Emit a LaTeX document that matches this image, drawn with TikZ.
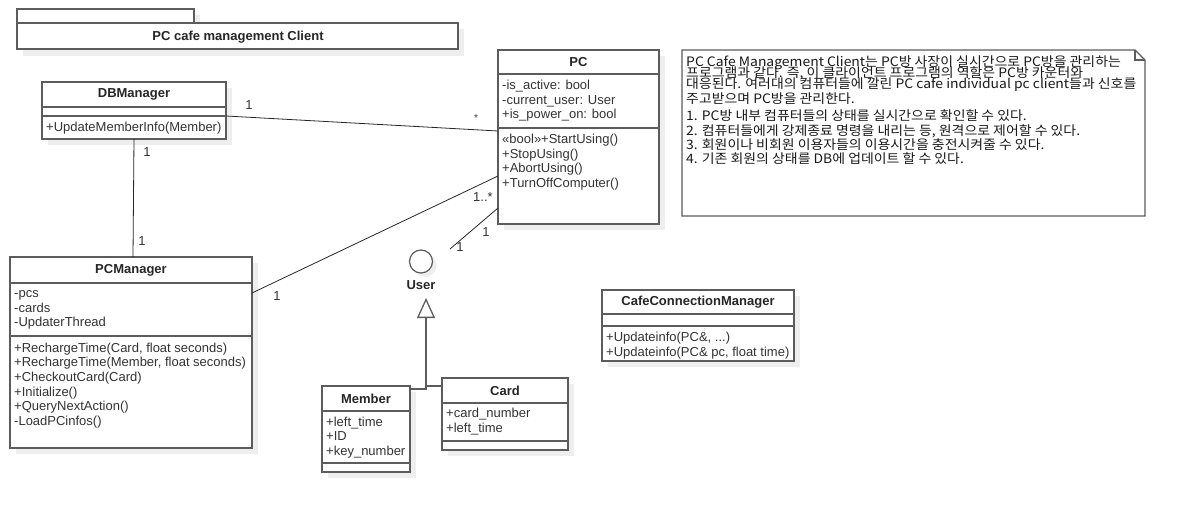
\documentclass[tikz,border=0pt]{standalone}
\usepackage{fontspec}
\setmainfont{Liberation Sans}
\newfontfamily\krfont[FakeStretch=1.07]{Noto Sans CJK KR}
\usetikzlibrary{calc,arrows.meta}
\definecolor{boxc}{HTML}{5C5C5C}
\definecolor{txtc}{HTML}{333333}
\definecolor{shadc}{HTML}{EEEEEE}
\newcommand\clsbox[8]{%
  \fill[shadc] ({#2+6},{#3+6}) rectangle ({#4+6},{#5+6});
  \node[clsframe, anchor=north west, minimum width={(#4-#2)*1pt}, minimum height={(#5-#3)*1pt}] (#1) at (#2,#3) {};
  \draw[divline] (#2,#6) -- (#4,#6) (#2,#7) -- (#4,#7);
  \node[ttl] (#1-title) at ({(#2+#4)/2},{(#3+#6)/2}) {#8};
}
\begin{document}
\begin{tikzpicture}[x=1pt,y=-1pt,
  clsframe/.style={draw=boxc, line width=1.3pt, fill=white, inner sep=0pt, outer sep=0pt},
  divline/.style={draw=boxc, line width=1.3pt},
  txt/.style={anchor=base west, inner sep=0pt, font=\fontsize{13}{15}\selectfont, text=txtc},
  ttl/.style={inner sep=0pt, font=\fontsize{13}{15}\selectfont\bfseries, text=black!85},
  conn/.style={draw=black!85, line width=0.8pt},
  mult/.style={inner sep=0pt, font=\fontsize{13}{15}\selectfont, text=txtc},
  notetxt/.style={anchor=base west, inner sep=0pt, font=\krfont\fontsize{13}{14}\selectfont, text=black!90},
  gen/.style={draw=boxc, line width=1.6pt}]
\useasboundingbox (0,0) rectangle (1186,513);

% package frame
\fill[shadc] (23,29) rectangle (464,56);
\fill[shadc] (194,15) rectangle (200,23);
\draw[divline, fill=white] (17,9) rectangle (194,23);
\node[clsframe, anchor=north west, minimum width=441pt, minimum height=26pt] (pkg) at (17,23) {};
\node[ttl] (pkg-title) at (238,37) {PC cafe management Client};

% classes
\clsbox{db}{42}{82}{226}{139}{107}{116}{DBManager}
\node[txt] (db-m1) at (46,132) {+UpdateMemberInfo(Member)};

\clsbox{pc}{498}{50}{659}{224}{74}{128}{PC}
\node[txt] (pc-a1) at (502,89.5) {-is\_active: bool};
\node[txt] (pc-a2) at (502,104.2) {-current\_user: User};
\node[txt] (pc-a3) at (502,118.9) {+is\_power\_on: bool};
\node[txt] (pc-m1) at (502,143.5) {«bool»+StartUsing()};
\node[txt] (pc-m2) at (502,158.2) {+StopUsing()};
\node[txt] (pc-m3) at (502,172.9) {+AbortUsing()};
\node[txt] (pc-m4) at (502,187.6) {+TurnOffComputer()};

\clsbox{pcm}{10}{257}{252}{448}{283}{336}{PCManager}
\node[txt] (pcm-a1) at (14,297.5) {-pcs};
\node[txt] (pcm-a2) at (14,312.2) {-cards};
\node[txt] (pcm-a3) at (14,326.9) {-UpdaterThread};
\node[txt] (pcm-m1) at (14,352) {+RechargeTime(Card, float seconds)};
\node[txt] (pcm-m2) at (14,366.7) {+RechargeTime(Member, float seconds)};
\node[txt] (pcm-m3) at (14,381.4) {+CheckoutCard(Card)};
\node[txt] (pcm-m4) at (14,396.1) {+Initialize()};
\node[txt] (pcm-m5) at (14,410.8) {+QueryNextAction()};
\node[txt] (pcm-m6) at (14,425.5) {-LoadPCinfos()};

\clsbox{mem}{322}{386}{410}{472}{411}{463}{Member}
\node[txt] (mem-a1) at (326,426) {+left\_time};
\node[txt] (mem-a2) at (326,440.7) {+ID};
\node[txt] (mem-a3) at (326,455.4) {+key\_number};

\clsbox{card}{442}{378}{568}{450}{403}{441}{Card}
\node[txt] (card-a1) at (446,417.5) {+card\_number};
\node[txt] (card-a2) at (446,432.2) {+left\_time};

\clsbox{ccm}{602}{290}{794}{361}{314}{326}{CafeConnectionManager}
\node[txt] (ccm-m1) at (606,341.5) {+Updateinfo(PC\&, ...)};
\node[txt] (ccm-m2) at (606,356) {+Updateinfo(PC\& pc, float time)};

% interface User
\fill[shadc] (425,265.5) circle (11.5);
\node[draw=boxc, line width=1.2pt, fill=white, circle, minimum size=23pt, inner sep=0pt] (user) at (421,261.5) {};
\node[ttl] (user-label) at (421,285) {User};
\coordinate (gentip) at (426,298);

% generalization
\draw[gen, -{Triangle[open, width=18pt, length=20pt, line width=1.3pt]}] ($(mem.north east)+(0,3)$) -- (426,389) -- (gentip);
\draw[gen] ($(card.north west)+(0,8)$) -- (426,386);

% associations
\draw[conn] ($(db.north east)+(0,34)$) -- ($(pc.north west)+(0,81)$);
\node[mult] (m1) at (249,105) {1};
\node[mult, font=\fontsize{10}{12}\selectfont] (m2) at (476,118) {*};

\draw[conn] ($(db.south west)+(92,0)$) -- ($(pcm.north west)+(123,0)$);
\node[mult] (m3) at (147,152) {1};
\node[mult] (m4) at (142,241.5) {1};

\draw[conn] ($(pcm.north east)+(0,36)$) -- ($(pc.north west)+(0,126)$);
\node[mult] (m5) at (277,296.5) {1};
\node[mult] (m6) at (483,197) {1..*};

\coordinate (uend) at (450,249);
\draw[conn] ($(pc.north west)+(0,158)$) -- (uend);
\node[mult] (m7) at (486,232) {1};
\node[mult] (m8) at (460,247) {1};

% note
\draw[divline, fill=white] (682,50) -- (1135,50) -- (1145,60) -- (1145,216) -- (682,216) -- cycle;
\draw[divline] (1135,50) -- (1135,60) -- (1145,60);
\node[notetxt] (n1) at (686,67) {PC Cafe Management Client는 PC방 사장이 실시간으로 PC방을 관리하는};
\node[notetxt] (n2) at (686,78) {프로그램과 같다. 즉, 이 클라이언트 프로그램의 역할은 PC방 카운터와};
\node[notetxt] (n3) at (686,89) {대응된다. 여러대의 컴퓨터들에 깔린 PC cafe individual pc client들과 신호를};
\node[notetxt] (n4) at (686,104) {주고받으며 PC방을 관리한다.};
\node[notetxt] (n5) at (686,121) {1. PC방 내부 컴퓨터들의 상태를 실시간으로 확인할 수 있다.};
\node[notetxt] (n6) at (686,135.5) {2. 컴퓨터들에게 강제종료 명령을 내리는 등, 원격으로 제어할 수 있다.};
\node[notetxt] (n7) at (686,150) {3. 회원이나 비회원 이용자들의 이용시간을 충전시켜줄 수 있다.};
\node[notetxt] (n8) at (686,164) {4. 기존 회원의 상태를 DB에 업데이트 할 수 있다.};
\end{tikzpicture}
\end{document}
